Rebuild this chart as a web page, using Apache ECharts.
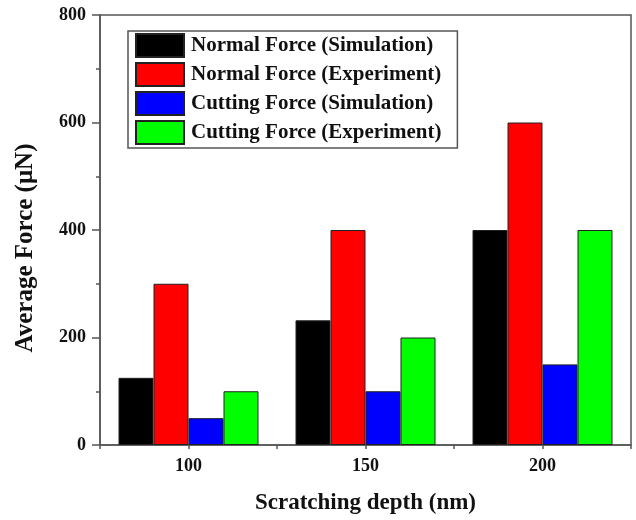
<!DOCTYPE html>
<html>
<head>
<meta charset="utf-8">
<script src="https://cdn.jsdelivr.net/npm/echarts@6/dist/echarts.min.js"></script>
<style>html,body{margin:0;padding:0;background:#fff;}#c{width:636px;height:520px;}</style>
</head>
<body>
<div id="c"></div>
<script>
const categories = ['100', '150', '200'];
const seriesNames = ['Normal Force (Simulation)', 'Normal Force (Experiment)', 'Cutting Force (Simulation)', 'Cutting Force (Experiment)'];
const normalSim = [125, 232, 400];
const normalExp = [300, 400, 600];
const cuttingSim = [50, 100, 150];
const cuttingExp = [100, 200, 400];
const colors = ['#000000', '#ff0000', '#0000ff', '#00ff00'];
const yTicks = { min: 0, max: 800, interval: 200 };

const FONT = '"Liberation Serif", "Times New Roman", serif';
const chart = echarts.init(document.getElementById('c'), null, { renderer: 'canvas' });
const values = [normalSim, normalExp, cuttingSim, cuttingExp];

chart.setOption({
  animation: false,
  backgroundColor: '#fff',
  grid: { left: 100, right: 5, top: 15, bottom: 71, show: true, borderColor: '#555', borderWidth: 1.5, backgroundColor: 'transparent' },
  legend: {
    left: 128, top: 31, orient: 'vertical',
    itemWidth: 48, itemHeight: 23, itemGap: 4,
    padding: [2, 16, 3, 7],
    borderColor: '#555', borderWidth: 1.5,
    icon: 'rect',
    textStyle: { fontFamily: FONT, fontWeight: 'bold', fontSize: 21, color: '#111', padding: [0, 0, 0, 2] },
    data: seriesNames
  },
  xAxis: [{
    type: 'category', data: categories, position: 'bottom',
    axisLine: { lineStyle: { color: '#555', width: 1.5 } },
    axisTick: { alignWithLabel: true, length: 7, lineStyle: { color: '#555', width: 1.5 } },
    axisLabel: { fontFamily: FONT, fontWeight: 'bold', fontSize: 18, color: '#111', margin: 12 },
    name: 'Scratching depth (nm)', nameLocation: 'middle', nameGap: 47,
    nameTextStyle: { fontFamily: FONT, fontWeight: 'bold', fontSize: 23, color: '#111' }
  }, {
    type: 'value', position: 'bottom', min: 75, max: 225, interval: 25,
    axisLine: { show: false },
    axisTick: { show: true, length: 4, lineStyle: { color: '#555', width: 1.5 } },
    axisLabel: { show: false }, splitLine: { show: false }
  }],
  yAxis: {
    type: 'value', min: yTicks.min, max: yTicks.max, interval: yTicks.interval,
    axisLine: { show: true, lineStyle: { color: '#555', width: 1.5 } },
    axisTick: { show: true, length: 8, lineStyle: { color: '#555', width: 1.5 } },
    minorTick: { show: true, splitNumber: 2, length: 4, lineStyle: { color: '#555', width: 1.5 } },
    splitLine: { show: false },
    axisLabel: { fontFamily: FONT, fontWeight: 'bold', fontSize: 18, color: '#111', margin: 14 },
    name: 'Average Force (μN)', nameLocation: 'middle', nameGap: 62,
    nameTextStyle: { fontFamily: FONT, fontWeight: 'bold', fontSize: 25, color: '#111', padding: [0, 36, 0, 0] }
  },
  series: seriesNames.map((n, i) => ({
    name: n, type: 'bar', xAxisIndex: 0, data: values[i],
    barWidth: 35, barGap: '0%',
    itemStyle: { color: colors[i], borderColor: '#222', borderWidth: 1 }
  }))
});
</script>
</body>
</html>
